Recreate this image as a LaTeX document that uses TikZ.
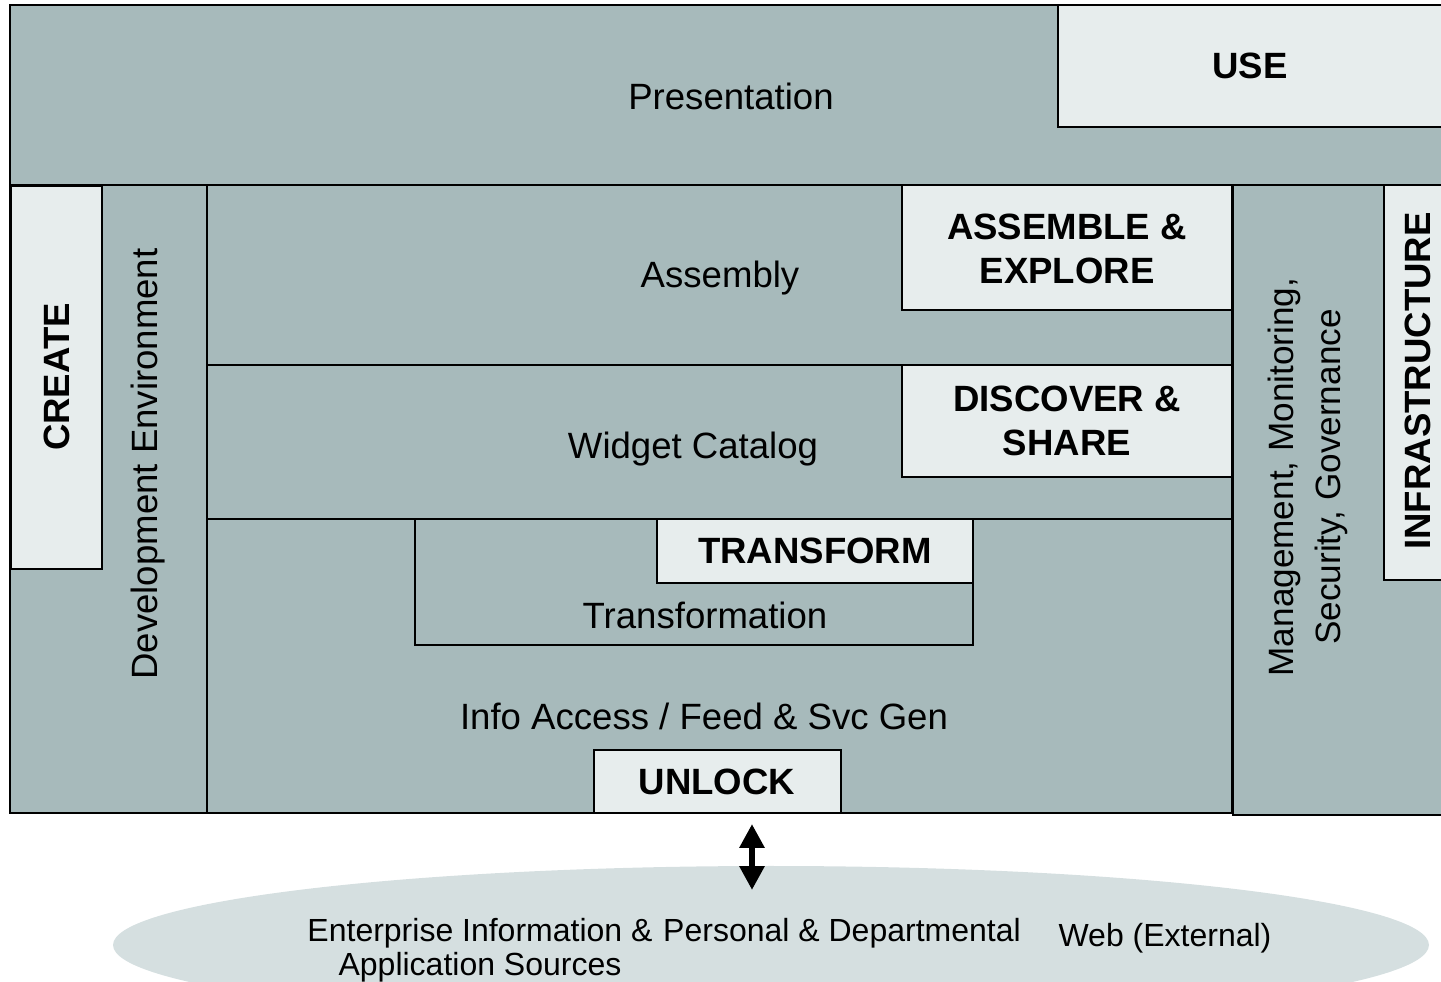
\documentclass[tikz,border=0pt]{standalone}
\usepackage{fontspec}
\setmainfont{Liberation Sans}
\usetikzlibrary{arrows.meta}
\definecolor{slate}{HTML}{A7BABB}
\definecolor{pale}{HTML}{E7EDED}
\definecolor{mist}{HTML}{D5DFE0}
\begin{document}
\begin{tikzpicture}[x=0.01cm,y=-0.01cm,line join=miter,
	layer/.style={draw,line width=0.8pt,fill=slate},
	tag/.style={draw,line width=0.8pt,fill=pale},
	txt/.style={inner sep=0pt,align=center,font=\fontsize{10.4}{12.5}\selectfont},
	bold/.style={inner sep=0pt,align=center,font=\fontsize{10.4}{12.4}\selectfont\bfseries},
	src/.style={inner sep=0pt,align=center,font=\fontsize{9.1}{9.6}\selectfont}]
	\useasboundingbox (0,0) rectangle (1441,982);
	\clip (0,0) rectangle (1441,982);
	% presentation
	\draw[layer] (10,5) rectangle (1460,185);
	\draw[tag] (1058,5) rectangle (1460,127);
	\node[txt] (pres) at (731,96) {Presentation};
	\node[bold] (use) at (1250,66) {USE};
	% left column
	\draw[layer] (10,185) rectangle (207,813);
	\draw[tag] (11,186) rectangle (102,569);
	\node[bold,rotate=90] (create) at (57,377) {CREATE};
	\node[txt,rotate=90] (dev) at (148,464) {Development Environment};
	% middle layers
	\draw[layer] (207,185) rectangle (1232,365);
	\draw[tag] (902,185) rectangle (1232,310);
	\node[txt] (asm) at (720,278) {Assembly};
	\node[bold] (explore) at (1067,249) {ASSEMBLE \&\\EXPLORE};
	\draw[layer] (207,365) rectangle (1232,519);
	\draw[tag] (902,365) rectangle (1232,477);
	\node[txt] (cat) at (693,449) {Widget Catalog};
	\node[bold] (share) at (1067,421) {DISCOVER \&\\SHARE};
	\draw[layer] (207,519) rectangle (1232,813);
	\draw[layer] (415,519) rectangle (973,645);
	\draw[tag] (657,519) rectangle (973,583);
	\node[bold] (transform) at (815,551) {TRANSFORM};
	\node[txt] (trans) at (705,615) {Transformation};
	\node[txt] (access) at (704,716) {Info Access / Feed \& Svc Gen};
	\draw[tag] (594,750) rectangle (841,813);
	\node[bold] (unlock) at (717,782) {UNLOCK};
	% right column
	\draw[layer] (1233,185) rectangle (1460,815);
	\draw[tag] (1384,185) rectangle (1460,580);
	\node[txt,rotate=90,font=\fontsize{10}{13.3}\selectfont] (mgmt) at (1308,477) {Management, Monitoring,\\Security, Governance};
	\node[bold,rotate=90] (infra) at (1418,381) {INFRASTRUCTURE};
	% sources
	\fill[mist] (771,945) ellipse [x radius=658, y radius=79];
	\node[src] (ent) at (480,950) {Enterprise Information \&\\Application Sources};
	\node[src] (pers) at (842,933) {Personal \& Departmental};
	\node[src] (web) at (1165,938) {Web (External)};
	\coordinate (top) at (752,824);
	\coordinate (bot) at (752,890);
	\draw[line width=1.9pt,{Triangle[width=6.8pt,length=6.8pt]}-{Triangle[width=6.8pt,length=6.8pt]}] (top) -- (bot);
\end{tikzpicture}
\end{document}
